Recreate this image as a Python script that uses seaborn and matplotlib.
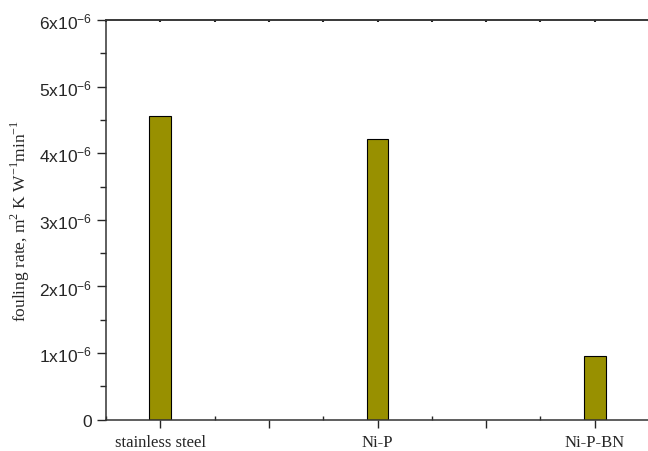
import matplotlib
matplotlib.use("Agg")
import matplotlib.pyplot as plt
import seaborn as sns
import pandas as pd
from matplotlib.ticker import MultipleLocator

coatings = ["stainless steel", "Ni-P", "Ni-P-BN"]
fouling_rate = [4.56e-6, 4.21e-6, 0.96e-6]

ytick_vals = [0, 1e-6, 2e-6, 3e-6, 4e-6, 5e-6, 6e-6]
ytick_labels = ["0"] + [r"$\mathsf{%dx10^{-6}}$" % i for i in range(1, 7)]

data = pd.DataFrame({"coating": coatings, "rate": fouling_rate})

sns.set_style("ticks")
plt.rcParams["mathtext.fontset"] = "custom"
plt.rcParams["mathtext.rm"] = "Liberation Serif"
plt.rcParams["mathtext.sf"] = "Liberation Sans"

fig = plt.figure(figsize=(6.48, 4.52), dpi=100)
ax = fig.add_axes([0.1636, 0.0692, 0.8380, 0.8843])

sns.barplot(
    data=data,
    x="coating",
    y="rate",
    color="#989000",
    saturation=1,
    width=0.1,
    edgecolor="black",
    linewidth=0.8,
    ax=ax
)

ax.set_xlim(-0.25, 2.25)
ax.set_ylim(0, 6e-6)

ax.set_yticks(ytick_vals)
ax.set_yticklabels(ytick_labels, fontsize=12.5, family="Liberation Sans")
ax.yaxis.set_minor_locator(MultipleLocator(0.5e-6))

ax.set_xticks([0, 0.5, 1, 1.5, 2])
ax.set_xticklabels(["stainless steel", "", "Ni-P", "", "Ni-P-BN"],
                   fontsize=12, family="Liberation Serif")
ax.xaxis.set_minor_locator(MultipleLocator(0.25))

ax.tick_params(axis="y", which="major", direction="out", length=6.5, width=1, left=True)
ax.tick_params(axis="y", which="minor", direction="out", length=4, width=1, left=True)
ax.tick_params(axis="x", which="major", direction="out", length=6, width=1,
               bottom=True, top=False, pad=4)
ax.tick_params(axis="x", which="minor", direction="in", length=3, width=1,
               bottom=True, top=False)

# tiny marks on the top frame line
top = ax.secondary_xaxis("top")
top.set_xticks([0, 0.5, 1, 1.5, 2])
top.xaxis.set_minor_locator(MultipleLocator(0.25))
top.tick_params(which="both", direction="in", length=1.5, width=1.5,
                labeltop=False, color="#222222")
top.spines["top"].set_linewidth(1.1)
top.spines["top"].set_color("#333333")

for side in ["left", "bottom", "top"]:
    ax.spines[side].set_visible(True)
    ax.spines[side].set_linewidth(1.1)
    ax.spines[side].set_color("#333333")
ax.spines["right"].set_visible(False)

ax.set_xlabel("")
ax.set_ylabel(r"fouling rate, m$^{2}$ K W$^{-1}$min$^{-1}$",
              fontsize=12.5, family="Liberation Serif", labelpad=5)

plt.savefig("out.png", dpi=100)
